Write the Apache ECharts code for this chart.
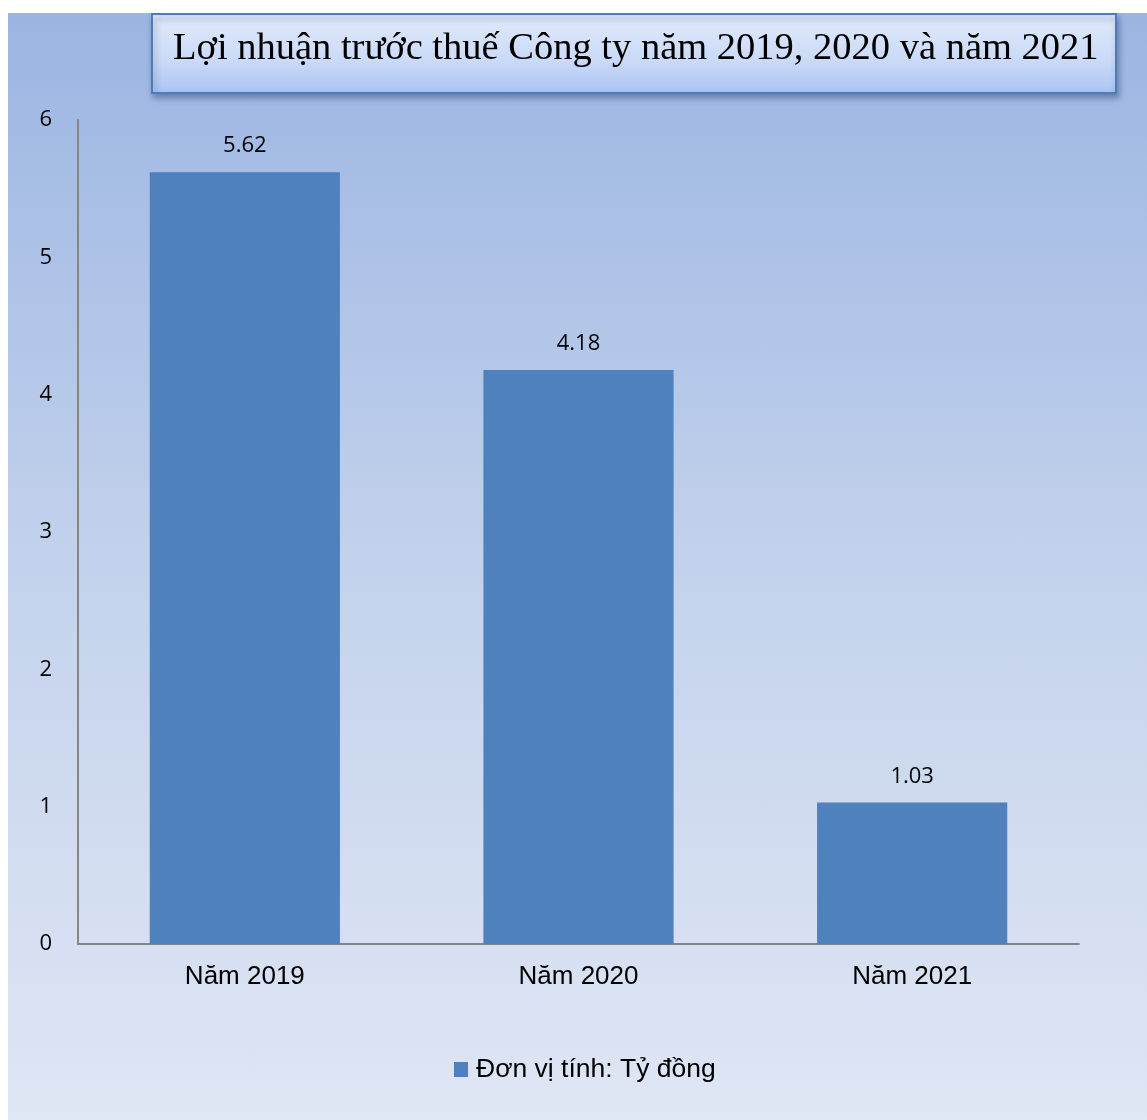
<!DOCTYPE html>
<html><head><meta charset="utf-8">
<script src="https://cdn.jsdelivr.net/npm/echarts@6/dist/echarts.min.js"></script>
<style>
html,body{margin:0;padding:0;background:#fff;}
#c{position:absolute;left:8px;top:13px;width:1139px;height:1107px;
background:linear-gradient(to bottom,#9bb5e2 0%,#c3d2ec 50%,#dfe6f4 100%);}
</style></head><body>
<div id="c"></div>
<script>
const categories = ['Năm 2019', 'Năm 2020', 'Năm 2021'];
const values = [5.62, 4.18, 1.03];
const seriesName = 'Đơn vị tính: Tỷ đồng';
const titleText = 'Lợi nhuận trước thuế Công ty năm 2019, 2020 và năm 2021';

const chart = echarts.init(document.getElementById('c'), null, {renderer: 'canvas'});
chart.setOption({
  animation: false,
  backgroundColor: 'transparent',
  graphic: [{
    type: 'group', left: 143, top: 0,
    children: [{
      type: 'rect',
      shape: {x: 0, y: 0, width: 964, height: 79},
      style: {
        fill: new echarts.graphic.LinearGradient(0, 0, 0, 1, [
          {offset: 0, color: '#e2ebfb'}, {offset: 0.6, color: '#c9d9f7'}, {offset: 1, color: '#a9c4f3'}]),
        stroke: '#4f7bb6', lineWidth: 2,
        shadowBlur: 6, shadowOffsetX: 2, shadowOffsetY: 4, shadowColor: 'rgba(40,60,100,0.45)'
      }
    }, {
      type: 'text', x: 21, y: 35,
      style: {text: titleText, font: '38.5px "Liberation Serif"', fill: '#000', align: 'left', verticalAlign: 'middle'}
    }]
  }],
  legend: {
    top: 1038, left: 441,
    itemWidth: 14, itemHeight: 15, itemGap: 6,
    icon: 'rect',
    textStyle: {fontFamily: 'Liberation Sans', fontSize: 26.5, color: '#000', padding: [0, 0, 0, 3]},
    data: [seriesName]
  },
  grid: {left: 70, right: 68, top: 107, bottom: 176, containLabel: false},
  xAxis: {
    type: 'category', data: categories,
    axisLine: {lineStyle: {color: '#868686', width: 2}},
    axisTick: {show: false},
    axisLabel: {fontFamily: 'Liberation Sans', fontSize: 26, color: '#000', margin: 20}
  },
  yAxis: {
    type: 'value', min: 0, max: 6, interval: 1,
    axisLine: {show: true, lineStyle: {color: '#868686', width: 2}},
    axisTick: {show: false},
    splitLine: {show: false},
    axisLabel: {fontFamily: 'Open Sans', fontSize: 22, color: '#000', margin: 26}
  },
  series: [{
    name: seriesName, type: 'bar', data: values,
    barWidth: '57%',
    itemStyle: {color: '#4f81bd'},
    label: {show: true, position: 'top', distance: 15, fontFamily: 'Open Sans', fontSize: 22, color: '#000',
      formatter: p => p.value.toFixed(2)}
  }]
});
</script>
</body></html>
